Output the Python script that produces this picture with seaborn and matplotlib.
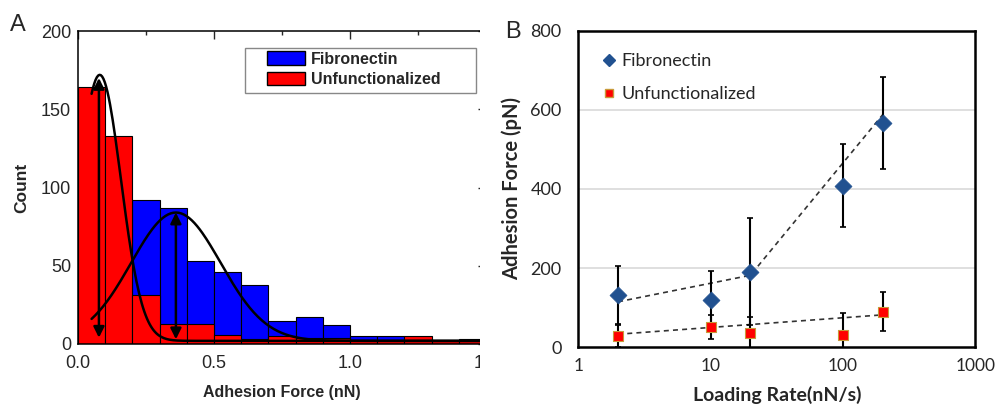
import matplotlib
matplotlib.use('Agg')
import matplotlib.pyplot as plt
import matplotlib.patches as mpatches
from matplotlib.ticker import MultipleLocator, LogLocator, NullFormatter
import numpy as np
import seaborn as sns

# ---- panel A: histogram counts per 0.1 nN bin ----
bin_left = [0.0, 0.1, 0.2, 0.3, 0.4, 0.5, 0.6, 0.7, 0.8, 0.9, 1.0, 1.1, 1.2, 1.3, 1.4]
fib_counts = [5, 45, 92, 87, 53, 46, 38, 15, 17, 12, 5, 5, 3, 2, 3]
unf_counts = [164, 133, 31, 13, 13, 6, 3, 5, 4, 4, 2.5, 2.5, 5, 2, 2]

# gaussian fits (amplitude, centre, width, offset)
fit_unf = (170, 0.08, 0.078, 2)
fit_fib = (82, 0.36, 0.165, 2)
# double arrows (x, y bottom, y top)
arrow_unf = (0.077, 4, 170)
arrow_fib = (0.36, 3, 84)

# ---- panel B: adhesion force vs loading rate ----
rate = [2, 10, 20, 100, 200]
fib_force = [132, 119, 191, 408, 566]
fib_err = [74, 73, 135, 105, 116]
unf_force = [29, 52, 37, 31, 90]
unf_err = [27, 30, 40, 55, 50]
trend_fib_x = [2, 20, 200]
trend_fib_y = [115, 182, 588]
trend_unf_x = [2, 200]
trend_unf_y = [33, 82]

sns.set_style('white')
plt.rcParams['font.family'] = ['Liberation Sans', 'DejaVu Sans']

fig = plt.figure(figsize=(9.96, 4.07), dpi=100)
fig.patch.set_facecolor('white')

# ---------------- panel A ----------------
ax1 = fig.add_axes([0.0783, 0.1548, 0.4096, 0.769])
edges = bin_left + [1.5]
centers = [b + 0.05 for b in bin_left]
sns.histplot(x=centers, weights=fib_counts, bins=edges, color='#0000ff', alpha=1,
             edgecolor='black', linewidth=0.8, ax=ax1)
sns.histplot(x=centers, weights=unf_counts, bins=edges, color='#ff0000', alpha=1,
             edgecolor='black', linewidth=0.8, ax=ax1)

for (a, xc, w, y0) in [fit_unf, fit_fib]:
    xs = np.linspace(0.05, 1.5, 300)
    ys = y0 + a * np.exp(-(xs - xc) ** 2 / (2 * w ** 2))
    sns.lineplot(x=xs, y=ys, color='black', linewidth=1.8, ax=ax1)

for (xa, yb, yt) in [arrow_unf, arrow_fib]:
    ax1.annotate('', xy=(xa, yb), xytext=(xa, yt),
                 arrowprops=dict(arrowstyle='<|-|>', color='black', lw=1.8,
                                 mutation_scale=16, shrinkA=0, shrinkB=0))

ax1.set_xlim(0, 1.5)
ax1.set_ylim(0, 200)
ax1.xaxis.set_major_locator(MultipleLocator(0.5))
ax1.xaxis.set_minor_locator(MultipleLocator(0.25))
ax1.yaxis.set_major_locator(MultipleLocator(50))
ax1.yaxis.set_minor_locator(MultipleLocator(25))
ax1.xaxis.set_major_formatter(matplotlib.ticker.FormatStrFormatter('%.1f'))
ax1.tick_params(which='both', direction='in', top=True, right=True, labelsize=13)
ax1.tick_params(axis='x', pad=8)
ax1.tick_params(axis='y', pad=5)
ax1.tick_params(which='major', length=6, width=1)
ax1.tick_params(which='minor', length=3, width=1)
for s in ax1.spines.values():
    s.set_color('black')
    s.set_linewidth(1.1)
ax1.set_xlabel('Adhesion Force (nN)', fontsize=11.5, fontweight='bold', labelpad=9)
ax1.set_ylabel('Count', fontsize=12.5, fontweight='bold', labelpad=8)

handles = [mpatches.Patch(facecolor='#0000ff', edgecolor='black', label='Fibronectin'),
           mpatches.Patch(facecolor='#ff0000', edgecolor='black', label='Unfunctionalized')]
ax1.legend(handles=handles, loc='upper left', bbox_to_anchor=(0.463, 0.935),
           prop={'weight': 'bold', 'size': 11.5}, frameon=False,
           handlelength=2.4, handleheight=0.95, borderpad=0, borderaxespad=0,
           labelspacing=0.3, handletextpad=0.35)
ax1.add_patch(mpatches.Rectangle((0.409, 0.802), 0.566, 0.144, transform=ax1.transAxes,
                                 facecolor='none', edgecolor='#888888', linewidth=1.0,
                                 zorder=5))

# white cover so panel A looks cropped at the right
cover = mpatches.Rectangle((480 / 996, 0), 1, 1, transform=fig.transFigure,
                           facecolor='white', edgecolor='none', zorder=1)
fig.patches.append(cover)

fig.text(18 / 996, 1 - 25 / 407, 'A', fontsize=17, ha='center', va='center')

# ---------------- panel B ----------------
ax2 = fig.add_axes([0.5806, 0.1467, 0.3986, 0.7779])
ax2.set_zorder(2)
ax2.set_xscale('log')
for yv in [200, 400, 600]:
    ax2.axhline(yv, color='#d9d9d9', linewidth=1.2, zorder=0)

sns.lineplot(x=trend_fib_x, y=trend_fib_y, color='#333333', linewidth=1.2,
             linestyle=(0, (3, 2.5)), ax=ax2, zorder=2)
sns.lineplot(x=trend_unf_x, y=trend_unf_y, color='#333333', linewidth=1.2,
             linestyle=(0, (3, 2.5)), ax=ax2, zorder=2)
ax2.errorbar(rate, fib_force, yerr=fib_err, fmt='none', ecolor='black', elinewidth=1.5,
             capsize=2.5, capthick=1.2, zorder=3)
ax2.errorbar(rate, unf_force, yerr=unf_err, fmt='none', ecolor='black', elinewidth=1.5,
             capsize=2.5, capthick=1.2, zorder=3)

sns.scatterplot(x=rate, y=fib_force, marker='D', color='#215190', s=75,
                edgecolor='#215190', linewidth=0.5, ax=ax2, zorder=4)
sns.scatterplot(x=rate, y=unf_force, marker='s', color='#ff0000', s=50,
                edgecolor='#c89a3a', linewidth=0.8, ax=ax2, zorder=4)

ax2.set_xlim(1, 1000)
ax2.set_ylim(0, 800)
ax2.yaxis.set_major_locator(MultipleLocator(200))
ax2.yaxis.set_minor_locator(MultipleLocator(40))
ax2.xaxis.set_major_locator(LogLocator(base=10))
ax2.xaxis.set_minor_locator(LogLocator(base=10, subs=np.arange(2, 10)))
ax2.xaxis.set_minor_formatter(NullFormatter())
ax2.xaxis.set_major_formatter(matplotlib.ticker.FuncFormatter(lambda v, p: '%d' % v))
ax2.tick_params(which='both', direction='in', top=False, right=False,
                labelfontfamily='Lato')
ax2.tick_params(axis='x', pad=8, labelsize=12.5)
ax2.tick_params(axis='y', pad=12, labelsize=13)
ax2.tick_params(which='major', length=6, width=1.3)
ax2.tick_params(which='minor', length=4, width=1.3)
for s in ax2.spines.values():
    s.set_color('black')
    s.set_linewidth(1.8)
ax2.set_xlabel('Loading Rate(nN/s)', fontsize=14, fontweight='bold', family='Lato', labelpad=8)
ax2.set_ylabel('Adhesion Force (pN)', fontsize=14.5, fontweight='bold', family='Lato', labelpad=6)

h_fib = plt.Line2D([], [], marker='D', color='none', markerfacecolor='#215190',
                   markeredgecolor='#215190', markersize=6, label='Fibronectin')
h_unf = plt.Line2D([], [], marker='s', color='none', markerfacecolor='#ff0000',
                   markeredgecolor='#c89a3a', markersize=6, label='Unfunctionalized')
ax2.legend(handles=[h_fib, h_unf], loc='upper left', bbox_to_anchor=(0.065, 0.93),
           frameon=False, prop={'family': 'Lato', 'size': 13}, handlelength=0.6,
           handletextpad=0.35, labelspacing=0.95, borderpad=0, borderaxespad=0)

fig.text(513 / 996, 1 - 32 / 407, 'B', fontsize=17, ha='center', va='center')

fig.savefig('out.png', dpi=100, facecolor='white')
